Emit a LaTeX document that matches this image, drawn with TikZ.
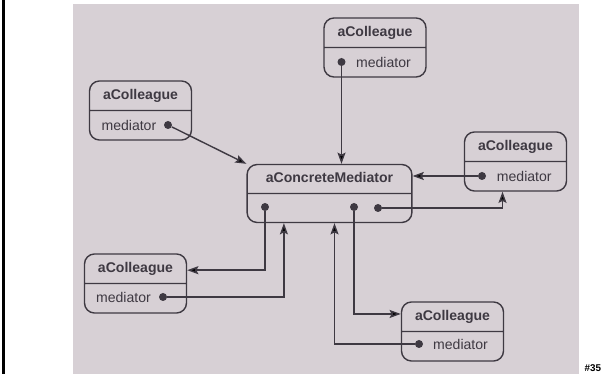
\documentclass[tikz,border=0pt]{standalone}
\usepackage{fontspec}
\setmainfont{Liberation Sans}
\usetikzlibrary{shapes.multipart, arrows.meta, calc, positioning}
\definecolor{paper}{RGB}{215,208,213}
\definecolor{ink}{RGB}{62,57,66}
\tikzset{
    obj/.style={draw=ink, line width=1pt, rounded corners=0.25cm, rectangle split, rectangle split parts=2,
        inner xsep=0pt, inner ysep=4pt, text width=2.55cm, align=center, font=\bfseries, text=ink},
    ptr/.style={circle, fill=ink, inner sep=0pt, minimum size=2mm},
    lbl/.style={inner sep=0pt, text=ink},
    arr/.style={draw=ink, line width=1pt, -{Stealth[length=2.8mm, width=2mm, inset=0.5mm]}},
}

\begin{document}
\begin{tikzpicture}
    \useasboundingbox (0,0) rectangle (15.2,9.35);
    \fill[black] (0.05,0) rectangle (0.12,9.35);
    \fill[paper] (1.825,0) rectangle (14.475,9.25);
    \node[font=\bfseries\scriptsize, anchor=base east] (num) at (15.15,0.06) {\#35};

    % mediator
    \node[obj, text width=4.12cm, inner ysep=3.8pt] (med) at (8.2375,4.5125) {\strut aConcreteMediator\nodepart{two}\strut};
    \node[ptr] (mdota) at (6.625,4.175) {};
    \node[ptr] (mdotb) at (8.85,4.175) {};
    \node[ptr] (mdotc) at (9.45,4.15) {};

    % colleagues
    \node[obj] (top) at (9.375,8.1625) {\strut aColleague\nodepart{two}\strut};
    \node[ptr] (topdot) at (8.5375,7.8) {};
    \node[lbl, right=0.25cm of topdot] (toplbl) {mediator};

    \node[obj] (left) at (3.5125,6.5875) {\strut aColleague\nodepart{two}\strut};
    \node[ptr] (leftdot) at (4.2,6.225) {};
    \node[lbl, left=0.18cm of leftdot] (leftlbl) {mediator};

    \node[obj] (right) at (12.8875,5.3125) {\strut aColleague\nodepart{two}\strut};
    \node[ptr] (rightdot) at (12.05,4.95) {};
    \node[lbl, right=0.26cm of rightdot] (rightlbl) {mediator};

    \node[obj] (bl) at (3.3875,2.2625) {\strut aColleague\nodepart{two}\strut};
    \node[ptr] (bldot) at (4.075,1.925) {};
    \node[lbl, left=0.19cm of bldot] (bllbl) {mediator};

    \node[obj] (br) at (11.3125,1.0625) {\strut aColleague\nodepart{two}\strut};
    \node[ptr] (brdot) at (10.475,0.75) {};
    \node[lbl, right=0.24cm of brdot] (brlbl) {mediator};

    % references
    \coordinate (rin) at ($(right.south)+(-0.325,0)$);
    \coordinate (blin) at ($(bl.north east)!0.28!(bl.south east)$);
    \coordinate (brin) at ($(br.north west)!0.21!(br.south west)$);
    \coordinate (mina) at ($(med.south)+(-1.14,0)$);
    \coordinate (minb) at ($(med.south)+(0.125,0)$);

    \draw[arr] (topdot) -- (topdot |- med.north);
    \draw[arr] (leftdot) -- (med.north west);
    \draw[arr] (rightdot) -- (rightdot -| med.east);
    \draw[arr] (mdotc) -| (rin);
    \draw[arr] (mdota) |- (blin);
    \draw[arr] (bldot) -| (mina);
    \draw[arr] (mdotb) |- (brin);
    \draw[arr] (brdot) -| (minb);
\end{tikzpicture}
\end{document}
